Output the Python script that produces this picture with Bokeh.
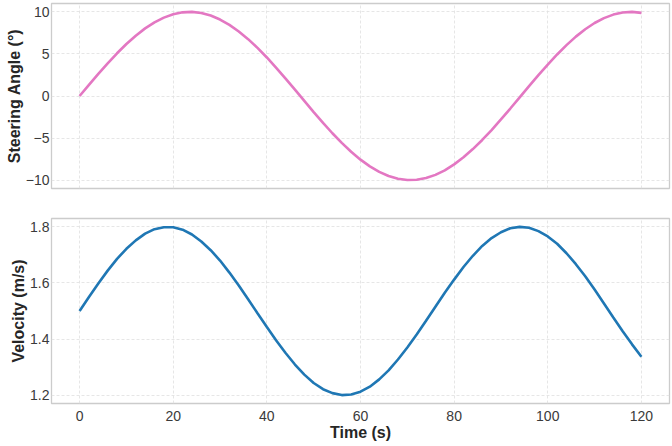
from bokeh.plotting import figure
from bokeh.layouts import column
from bokeh.models import Range1d, FixedTicker
from bokeh.embed import file_html
from bokeh.resources import INLINE

# Sample times (s), every 2 s
time_s = list(range(0, 121, 2))

# Steering angle (degrees)
steering_deg = [
    0.00, 1.33, 2.64, 3.89, 5.08, 6.18, 7.17, 8.04, 8.76, 9.32,
    9.72, 9.95, 10.00, 9.87, 9.57, 9.09, 8.46, 7.67, 6.76, 5.72,
    4.58, 3.35, 2.06, 0.75, -0.58, -1.91, -3.19, -4.43, -5.58, -6.63,
    -7.57, -8.37, -9.03, -9.52, -9.84, -9.99, -9.96, -9.76, -9.38, -8.84,
    -8.13, -7.29, -6.31, -5.23, -4.05, -2.79, -1.49, -0.17, 1.17, 2.48,
    3.74, 4.94, 6.05, 7.06, 7.94, 8.68, 9.26, 9.68, 9.93, 10.00,
    9.89,
]

# Velocity (m/s)
velocity_ms = [
    1.500, 1.550, 1.598, 1.644, 1.686, 1.722, 1.752, 1.776, 1.792, 1.799,
    1.799, 1.790, 1.773, 1.748, 1.717, 1.680, 1.637, 1.591, 1.542, 1.492,
    1.443, 1.395, 1.350, 1.309, 1.273, 1.243, 1.221, 1.207, 1.200, 1.202,
    1.212, 1.230, 1.256, 1.288, 1.327, 1.370, 1.416, 1.465, 1.515, 1.565,
    1.612, 1.657, 1.697, 1.732, 1.760, 1.781, 1.795, 1.800, 1.797, 1.785,
    1.766, 1.740, 1.706, 1.667, 1.624, 1.577, 1.527, 1.477, 1.428, 1.381,
    1.337,
]

x_ticks = [0, 20, 40, 60, 80, 100, 120]
steer_ticks = [-10, -5, 0, 5, 10]
vel_ticks = [1.2, 1.4, 1.6, 1.8]

FONT = "Liberation Sans"
TICK_COLOR = "#3a3a3a"
LABEL_COLOR = "#262626"


def style(p):
    p.outline_line_color = "#cccccc"
    p.outline_line_width = 1.3
    p.background_fill_color = "white"
    p.border_fill_color = "white"
    for g in (p.xgrid, p.ygrid):
        g.grid_line_color = "#e0e0e0"
        g.grid_line_dash = "3 2"
        g.grid_line_width = 0.8
    for ax in (p.xaxis, p.yaxis):
        ax.axis_line_color = None
        ax.major_tick_line_color = None
        ax.minor_tick_line_color = None
        ax.major_tick_in = 0
        ax.major_tick_out = 0
        ax.minor_tick_in = 0
        ax.minor_tick_out = 0
        ax.major_label_text_font = FONT
        ax.major_label_text_font_size = "14px"
        ax.major_label_text_color = TICK_COLOR
        ax.axis_label_text_font = FONT
        ax.axis_label_text_font_size = "16px"
        ax.axis_label_text_font_style = "bold"
        ax.axis_label_text_color = LABEL_COLOR
    p.yaxis.major_label_standoff = 2
    p.yaxis.axis_label_standoff = 0


# Steering angle panel
p1 = figure(width=672, height=200, output_backend="svg", toolbar_location=None,
            x_range=Range1d(-6, 126), y_range=Range1d(-11, 11),
            min_border_left=51, min_border_right=3, min_border_top=3,
            min_border_bottom=12)
style(p1)
p1.xaxis.visible = False
p1.xaxis.ticker = FixedTicker(ticks=x_ticks)
p1.yaxis.ticker = FixedTicker(ticks=steer_ticks)
p1.yaxis.axis_label = "Steering Angle (°)"
p1.line(time_s, steering_deg, line_color="#e377c2", line_width=2.6)

# Velocity panel
p2 = figure(width=672, height=246, output_backend="svg", toolbar_location=None,
            x_range=p1.x_range, y_range=Range1d(1.17, 1.83),
            min_border_left=51, min_border_right=3, min_border_top=18,
            min_border_bottom=43)
style(p2)
p2.xaxis.ticker = FixedTicker(ticks=x_ticks)
p2.yaxis.ticker = FixedTicker(ticks=vel_ticks)
p2.xaxis.major_label_standoff = 7
p2.xaxis.axis_label_standoff = 0
p2.xaxis.axis_label = "Time (s)"
p2.yaxis.axis_label = "Velocity (m/s)"
p2.line(time_s, velocity_ms, line_color="#1f77b4", line_width=2.6)

layout = column(p1, p2, spacing=0)
open("out.html", "w").write(file_html(layout, INLINE))
